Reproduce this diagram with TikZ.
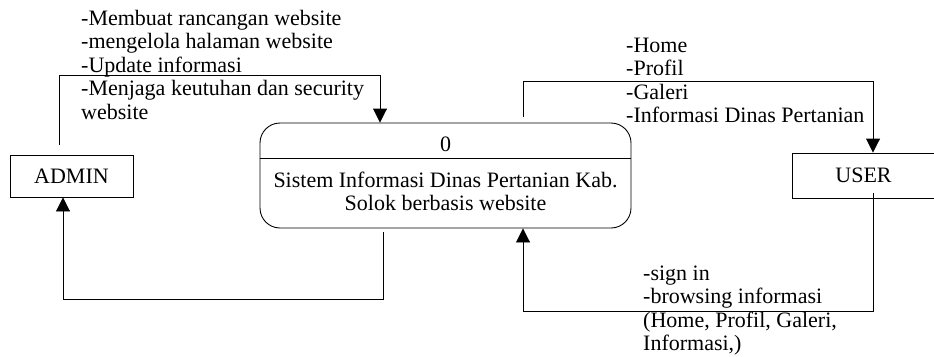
\documentclass[tikz,border=0pt]{standalone}
\usepackage{fontspec}
\setmainfont{Liberation Serif}
\usetikzlibrary{arrows.meta}
\begin{document}
\begin{tikzpicture}[x=1pt,y=-1pt,
  every node/.style={font=\fontsize{22}{23.5}\selectfont},
  entity/.style={draw, line width=0.9pt, inner sep=0pt, align=center},
  label/.style={inner sep=0pt, anchor=base west, align=left},
  flow/.style={line width=0.9pt, -{Triangle[width=14pt,length=14pt]}},
  proctext/.style={inner sep=0pt, anchor=base}]
\useasboundingbox (0,0) rectangle (934,356);
% entities
\node[entity, minimum width=123pt, minimum height=42pt] (admin) at (71.5,176) {ADMIN};
\node[entity, minimum width=143pt, minimum height=45pt] (user) at (863.5,175.5) {USER};
% process
\node[draw, line width=0.9pt, rounded corners=20pt, minimum width=371pt, minimum height=105pt, inner sep=0pt] (proc) at (445.5,175.5) {};
\draw[line width=0.9pt] (proc.west |- 0,158) coordinate (dl) -- (proc.east |- 0,158) coordinate (dr);
\node[proctext] (pnum) at (445.5,151) {0};
\node[proctext] (pname1) at (445.5,187) {Sistem Informasi Dinas Pertanian Kab.};
\node[proctext] (pname2) at (445.5,210) {Solok berbasis website};
% flows
\draw[flow] ([shift={(-12.5,-10)}]admin.north) -- ++(0,-69) -| ([shift={(-65.5,0)}]proc.north);
\draw[flow] ([shift={(-62.5,4)}]proc.south) -- ++(0,67) -| ([shift={(-8.5,0)}]admin.south);
\draw[flow] ([shift={(77.5,-6)}]proc.north) -- ++(0,-35) -| ([shift={(9.5,0)}]user.north);
\draw[flow] ([shift={(9.5,-5)}]user.south) -- ++(0,118) -| ([shift={(77.5,0)}]proc.south);
% labels (anchor is the baseline of the last line)
\node[label] (ladmin) at (81,119) {-Membuat rancangan website\\-mengelola halaman website\\-Update informasi\\-Menjaga keutuhan dan security\\website};
\node[label] (luser) at (626,122.5) {-Home\\-Profil\\-Galeri\\-Informasi Dinas Pertanian};
\node[label] (lsign) at (643,350.5) {-sign in\\-browsing informasi\\(Home, Profil, Galeri,\\Informasi,)};
\end{tikzpicture}
\end{document}
